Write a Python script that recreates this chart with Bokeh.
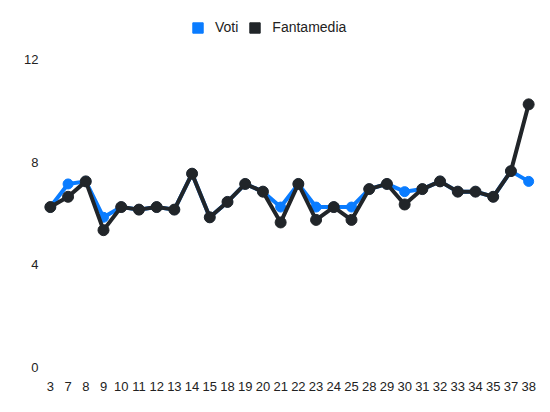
from bokeh.plotting import figure
from bokeh.models import Range1d, FactorRange, FixedTicker, Legend, LegendItem, ColumnDataSource
from bokeh.embed import file_html
from bokeh.resources import INLINE

giornate = ["3", "7", "8", "9", "10", "11", "12", "13", "14", "15", "18", "19", "20", "21",
            "22", "23", "24", "25", "28", "29", "30", "31", "32", "33", "34", "35", "37", "38"]
voti = [6.25, 7.15, 7.25, 5.85, 6.25, 6.15, 6.25, 6.15, 7.55, 5.85, 6.45, 7.15, 6.85, 6.25,
        7.15, 6.25, 6.25, 6.25, 6.95, 7.15, 6.85, 6.95, 7.25, 6.85, 6.85, 6.65, 7.65, 7.25]
fantamedia = [6.25, 6.65, 7.25, 5.35, 6.25, 6.15, 6.25, 6.15, 7.55, 5.85, 6.45, 7.15, 6.85, 5.65,
              7.15, 5.75, 6.25, 5.75, 6.95, 7.15, 6.35, 6.95, 7.25, 6.85, 6.85, 6.65, 7.65, 10.25]
y_ticks = [0, 4, 8, 12]

BLUE = "#0a7cff"
DARK = "#212529"
FONT = "Liberation Sans"

p = figure(width=542, height=404, output_backend="svg", toolbar_location=None,
           x_range=FactorRange(factors=giornate, range_padding=0),
           y_range=Range1d(-0.234, 13.79),
           min_border_left=41, min_border_right=5, min_border_top=13, min_border_bottom=31)
p.outline_line_color = None
p.grid.visible = False
p.background_fill_color = "white"
p.border_fill_color = "white"

src = ColumnDataSource(dict(x=giornate, v=voti, f=fantamedia))
p.line("x", "v", source=src, line_color=BLUE, line_width=4)
p.scatter("x", "v", source=src, size=10, fill_color=BLUE, line_color=BLUE)
p.line("x", "f", source=src, line_color=DARK, line_width=4)
p.scatter("x", "f", source=src, size=11, fill_color=DARK, line_color=DARK)

# legend swatches: off-screen rects so the legend draws filled boxes
lv = p.rect(x=[giornate[0]], y=[-100], width=0.5, height=1, fill_color=BLUE, line_color=BLUE)
lf = p.rect(x=[giornate[0]], y=[-100], width=0.5, height=1, fill_color=DARK, line_color=DARK)
legend = Legend(items=[LegendItem(label="Voti", renderers=[lv]),
                       LegendItem(label="Fantamedia", renderers=[lf])],
                orientation="horizontal", location=(150, 338),
                padding=0, margin=0, spacing=10, glyph_width=13, glyph_height=13,
                label_height=13, label_standoff=11,
                label_text_font=FONT, label_text_font_size="14px", label_text_color="#222222",
                border_line_color=None, background_fill_alpha=0)
p.add_layout(legend)

for ax in (p.xaxis, p.yaxis):
    ax.axis_line_color = None
    ax.major_tick_line_color = None
    ax.minor_tick_line_color = None
    ax.major_label_text_font = FONT
    ax.major_label_text_font_size = "13px"
    ax.major_label_text_color = "#222222"
p.yaxis.ticker = FixedTicker(ticks=y_ticks)
p.yaxis.major_label_standoff = 3
p.xaxis.major_label_standoff = 8
p.xaxis.major_tick_out = 0
p.yaxis.major_tick_out = 0

open("out.html", "w").write(file_html(p, INLINE))
